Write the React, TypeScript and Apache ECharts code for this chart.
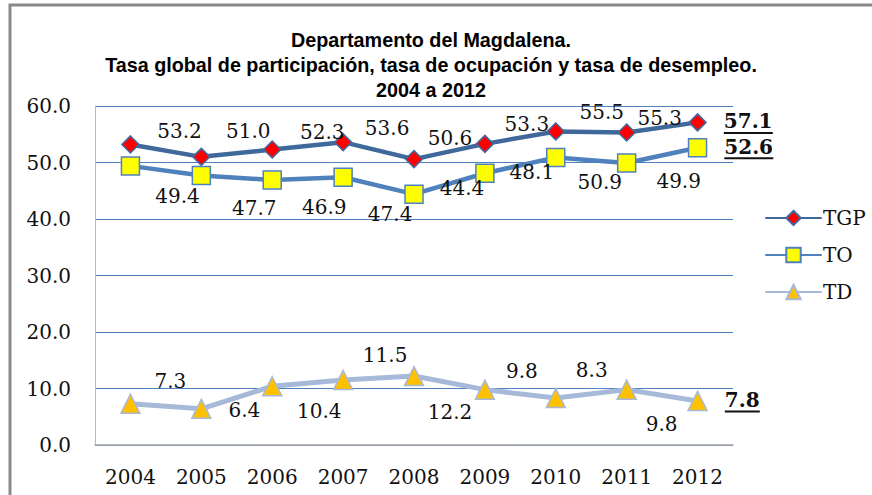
import React, { useEffect, useRef } from "react";
import * as echarts from "echarts";

const years = ["2004", "2005", "2006", "2007", "2008", "2009", "2010", "2011", "2012"];
const tgp = [53.2, 51.0, 52.3, 53.6, 50.6, 53.3, 55.5, 55.3, 57.1];
const to = [49.4, 47.7, 46.9, 47.4, 44.4, 48.1, 50.9, 49.9, 52.6];
const td = [7.3, 6.4, 10.4, 11.5, 12.2, 9.8, 8.3, 9.8, 7.8];

// label offsets (label style, relative to each point)
const tgpLabelOffsets = [[49, -13], [47, -26], [50, -18], [44, -14], [36, -21], [42, -20], [46, -19], [33, -15]];
const toLabelOffsets = [[47, 30], [53, 33], [52, 27], [47, 37], [48, -6], [47, -1], [44, 25], [52, 18]];
const tdLabelOffsets = [[40, -23], [43, 1], [47, 25], [42, -25], [36, 36], [37, -19], [36, -28], [35, 34]];

const titleLines = [
  "Departamento del Magdalena.",
  "Tasa global de participación, tasa de ocupación y tasa de desempleo.",
  "2004 a 2012",
];

const SERIF = '"DejaVu Serif", serif';
const TITLE_FONT = 'bold 20px "Liberation Sans", Arial, sans-serif';
const BOLD_LABEL_FONT = 'bold 20px "DejaVu Serif", serif';

function buildData(values: number[], offsets: number[][], measure: (s: string) => number) {
  return values.map((v, i) => {
    const last = i === values.length - 1;
    if (last) {
      const txt = v.toFixed(1);
      const uw = Math.round(measure(txt)) || 40;
      return {
        value: v,
        label: {
          show: true,
          position: "right",
          distance: 17,
          formatter: (p: any) => `{v|${Number(p.value).toFixed(1)}}\n{u|}`,
          rich: {
            v: { fontFamily: SERIF, fontWeight: "bold", fontSize: 20, color: "#111", lineHeight: 21 },
            u: { width: uw, height: 2, backgroundColor: "#111", lineHeight: 2 },
          },
        },
      };
    }
    return {
      value: v,
      label: {
        show: true,
        position: "inside",
        offset: offsets[i],
      },
    };
  });
}

export default function App() {
  const ref = useRef<HTMLDivElement>(null);
  useEffect(() => {
    if (!ref.current) return;
    const chart = echarts.init(ref.current, null, { renderer: "svg" });

    const canvas = document.createElement("canvas");
    const ctx = canvas.getContext("2d")!;
    ctx.font = TITLE_FONT;
    const w = ctx.measureText(titleLines[1]).width || 652;
    const sx = 652 / w;
    const measure = (s: string) => {
      ctx.font = BOLD_LABEL_FONT;
      return ctx.measureText(s).width;
    };

    const labelBase = {
      fontFamily: SERIF,
      fontSize: 20,
      color: "#111",
      formatter: (p: any) => Number(p.value).toFixed(1),
    };

    chart.setOption({
      animation: false,
      backgroundColor: "#ffffff",
      graphic: [
        {
          type: "rect",
          shape: { x: 10, y: 5, width: 900, height: 600 },
          style: { fill: "none", stroke: "#8a8a8a", lineWidth: 3 },
          silent: true,
        },
        ...titleLines.map((t, i) => ({
          type: "text",
          x: 431,
          y: 40 + i * 25,
          scaleX: sx,
          style: {
            text: t,
            font: TITLE_FONT,
            fill: "#000000",
            textAlign: "center",
            textVerticalAlign: "middle",
          },
        })),
      ],
      legend: {
        orient: "vertical",
        left: 765,
        top: 208,
        padding: 0,
        itemWidth: 55,
        itemHeight: 18,
        itemGap: 17,
        textStyle: { fontFamily: SERIF, fontSize: 20, color: "#111", padding: [0, 0, 0, -3] },
        data: ["TGP", "TO", "TD"],
      },
      grid: { left: 95, right: 139, top: 106, bottom: 50, containLabel: false },
      xAxis: {
        type: "category",
        data: years,
        boundaryGap: true,
        axisTick: { show: false },
        axisLine: { show: true, lineStyle: { color: "#a6a6a6", width: 1.5 } },
        axisLabel: { fontFamily: SERIF, fontSize: 20, color: "#111", margin: 22 },
        z: 3,
      },
      yAxis: {
        type: "value",
        min: 0,
        max: 60,
        interval: 10,
        axisLine: { show: true, lineStyle: { color: "#b8b8b8", width: 1 } },
        axisTick: { show: false },
        splitLine: { show: true, lineStyle: { color: "#4f81bd", width: 1 } },
        axisLabel: {
          fontFamily: SERIF,
          fontSize: 20,
          color: "#111",
          margin: 24,
          formatter: (v: number) => v.toFixed(1),
        },
      },
      series: [
        {
          name: "TGP",
          type: "line",
          data: buildData(tgp, tgpLabelOffsets, measure),
          symbol: "diamond",
          symbolSize: 17,
          lineStyle: { color: "#3f689b", width: 4.5, cap: "round" },
          itemStyle: { color: "#ff0000", borderColor: "#3f6aa1", borderWidth: 1.5 },
          label: labelBase,
          z: 4,
        },
        {
          name: "TO",
          type: "line",
          data: buildData(to, toLabelOffsets, measure),
          symbol: "rect",
          symbolSize: 18,
          lineStyle: { color: "#4f81bd", width: 4.5, cap: "round" },
          itemStyle: { color: "#ffff00", borderColor: "#4f81bd", borderWidth: 1.5 },
          label: labelBase,
          z: 4,
        },
        {
          name: "TD",
          type: "line",
          data: buildData(td, tdLabelOffsets, measure),
          symbol: "triangle",
          symbolSize: 19,
          lineStyle: { color: "#a7b9d9", width: 5, cap: "round" },
          itemStyle: { color: "#ffc000", borderColor: "#a7b9d9", borderWidth: 1.5 },
          label: labelBase,
          z: 4,
        },
      ],
    });
    return () => chart.dispose();
  }, []);

  return (
    <div
      ref={ref}
      style={{ position: "fixed", left: 0, top: 0, width: 872, height: 495, background: "#fff" }}
    />
  );
}
